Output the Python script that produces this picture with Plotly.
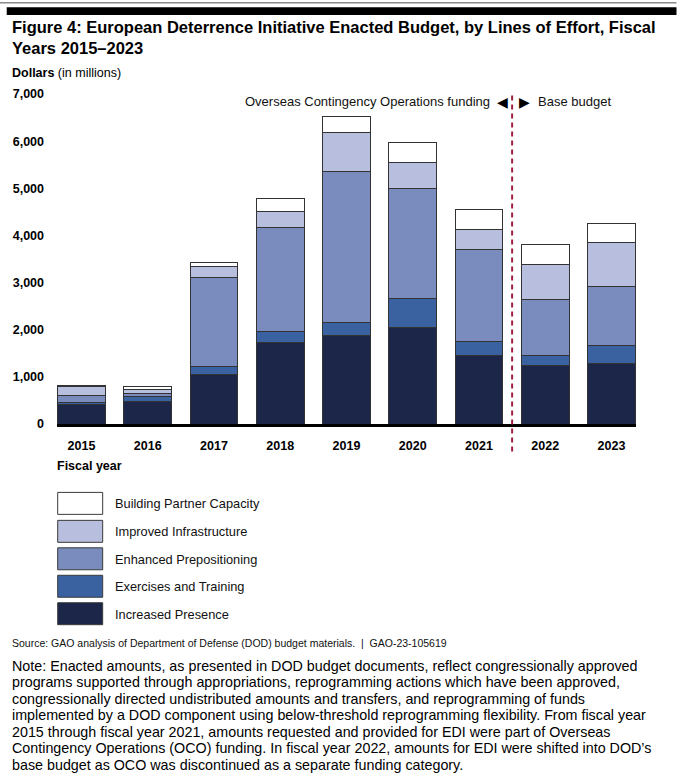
import plotly.graph_objects as go

years = ["2015", "2016", "2017", "2018", "2019", "2020", "2021", "2022", "2023"]
increased_presence = [423, 471, 1049, 1732, 1870, 2040, 1455, 1235, 1280]
exercises_training = [41, 108, 163, 231, 290, 620, 300, 215, 395]
enhanced_prepositioning = [136, 58, 1904, 2206, 3200, 2340, 1940, 1195, 1240]
improved_infrastructure = [196, 89, 217, 337, 820, 545, 440, 740, 935]
building_partner_capacity = [14, 63, 87, 270, 350, 430, 410, 430, 410]

series_names = ["Increased Presence", "Exercises and Training", "Enhanced Prepositioning",
                "Improved Infrastructure", "Building Partner Capacity"]
series_values = [increased_presence, exercises_training, enhanced_prepositioning,
                 improved_infrastructure, building_partner_capacity]
colors = ["#1b2648", "#3a62a0", "#7a8cbd", "#b8bedd", "#ffffff"]

y_ticks = [0, 1000, 2000, 3000, 4000, 5000, 6000, 7000]

note_lines = [
    "Note: Enacted amounts, as presented in DOD budget documents, reflect congressionally approved",
    "programs supported through appropriations, reprogramming actions which have been approved,",
    "congressionally directed undistributed amounts and transfers, and reprogramming of funds",
    "implemented by a DOD component using below-threshold reprogramming flexibility. From fiscal year",
    "2015 through fiscal year 2021, amounts requested and provided for EDI were part of Overseas",
    "Contingency Operations (OCO) funding. In fiscal year 2022, amounts for EDI were shifted into DOD’s",
    "base budget as OCO was discontinued as a separate funding category.",
]

W, H = 677, 778
L, R, T, B = 57.3, 636.5, 94, 424.5
FONT = "Liberation Sans, Arial, sans-serif"


def px(x):
    return (x - L) / (R - L)


def py(y):
    return (B - y) / (B - T)


fig = go.Figure()
for name, vals, col in zip(series_names, series_values, colors):
    fig.add_trace(go.Bar(
        x=years, y=vals, name=name, width=0.72,
        marker=dict(color=col, line=dict(color="#333333", width=1)),
        showlegend=False, hoverinfo="skip",
    ))

shapes = []
annotations = []

# top rules
shapes.append(dict(type="line", xref="paper", yref="paper", x0=px(0), x1=px(W),
                   y0=py(2.5), y1=py(2.5), line=dict(color="#8a8a8a", width=1.5)))
shapes.append(dict(type="rect", xref="paper", yref="paper", x0=px(7), x1=px(W),
                   y0=py(7), y1=py(15), fillcolor="black", line=dict(width=0)))

# divider between OCO and base budget
shapes.append(dict(type="line", xref="x", yref="paper", x0=6.5, x1=6.5,
                   y0=py(452), y1=py(93),
                   line=dict(color="#9e2240", width=2, dash="5px,4px")))

# Legend boxes (drawn top to bottom)
legend_order = list(range(len(series_names)))[::-1]
box_tops = [493, 521, 548.5, 576, 603.5]
for top, idx in zip(box_tops, legend_order):
    shapes.append(dict(type="rect", xref="paper", yref="paper",
                       x0=px(58), x1=px(103), y0=py(top), y1=py(top + 22),
                       fillcolor=colors[idx], line=dict(color="#3a3a3a", width=1)))
    annotations.append(dict(xref="paper", yref="paper", x=px(113), y=py(top + 11.5),
                            xanchor="left", yanchor="middle", showarrow=False,
                            text=series_names[idx],
                            font=dict(family=FONT, size=12.8, color="#111111")))

# Title
annotations.append(dict(xref="paper", yref="paper", x=px(10), y=py(16), xanchor="left",
                        yanchor="top", align="left", showarrow=False,
                        text="<b>Figure 4: European Deterrence Initiative Enacted Budget, by Lines of Effort, Fiscal<br>Years 2015–2023</b>",
                        font=dict(family=FONT, size=16.5, color="black")))
annotations.append(dict(xref="paper", yref="paper", x=px(10), y=py(73), xanchor="left",
                        yanchor="middle", showarrow=False,
                        text="<b>Dollars</b> (in millions)",
                        font=dict(family=FONT, size=12.5, color="black")))
annotations.append(dict(xref="paper", yref="paper", x=px(55), y=py(467), xanchor="left",
                        yanchor="middle", showarrow=False, text="<b>Fiscal year</b>",
                        font=dict(family=FONT, size=12.5, color="black")))
annotations.append(dict(xref="paper", yref="paper", x=px(492.5), y=py(102), xanchor="right",
                        yanchor="middle", showarrow=False,
                        text="Overseas Contingency Operations funding",
                        font=dict(family=FONT, size=13, color="#111111")))
annotations.append(dict(xref="paper", yref="paper", x=px(503), y=py(102), xanchor="center",
                        yanchor="middle", showarrow=False, text="\u25C0",
                        font=dict(family="DejaVu Sans", size=14, color="black")))
annotations.append(dict(xref="paper", yref="paper", x=px(525), y=py(102), xanchor="center",
                        yanchor="middle", showarrow=False, text="\u25B6",
                        font=dict(family="DejaVu Sans", size=14, color="black")))
annotations.append(dict(xref="paper", yref="paper", x=px(536), y=py(102), xanchor="left",
                        yanchor="middle", showarrow=False, text="Base budget",
                        font=dict(family=FONT, size=13, color="#111111")))
annotations.append(dict(xref="paper", yref="paper", x=px(10), y=py(644), xanchor="left",
                        yanchor="middle", showarrow=False,
                        text="Source: GAO analysis of Department of Defense (DOD) budget materials.  |  GAO-23-105619",
                        font=dict(family=FONT, size=10.5, color="#111111")))
for i, line in enumerate(note_lines):
    annotations.append(dict(xref="paper", yref="paper", x=px(10), y=py(666.5 + i * 16.55),
                            xanchor="left", yanchor="middle", align="left", showarrow=False,
                            text=line, font=dict(family=FONT, size=14.3, color="black")))

fig.update_layout(
    width=W, height=H,
    margin=dict(l=L, r=W - R, t=T, b=H - B, pad=0),
    barmode="stack",
    plot_bgcolor="white", paper_bgcolor="white",
    font=dict(family=FONT, color="black"),
    shapes=shapes, annotations=annotations,
    showlegend=False, hovermode=False,
)
fig.update_xaxes(range=[-0.37, 8.37], showline=True, linecolor="black", linewidth=3,
                 ticks="", showgrid=False, zeroline=False, ticklabelstandoff=8,
                 tickvals=years, ticktext=[f"<b>{y}</b>" for y in years],
                 tickfont=dict(family=FONT, size=12.5, color="black"))
fig.update_yaxes(range=[0, 7000], showline=False, showgrid=False, zeroline=False, ticks="",
                 ticklabelstandoff=12,
                 tickvals=y_ticks, ticktext=[f"<b>{v:,}</b>" for v in y_ticks],
                 tickfont=dict(family=FONT, size=12.5, color="black"))

fig.write_html("out.html", config={"displayModeBar": False, "staticPlot": True},
               post_script="document.body.style.margin='0';document.body.style.overflow='hidden';")
